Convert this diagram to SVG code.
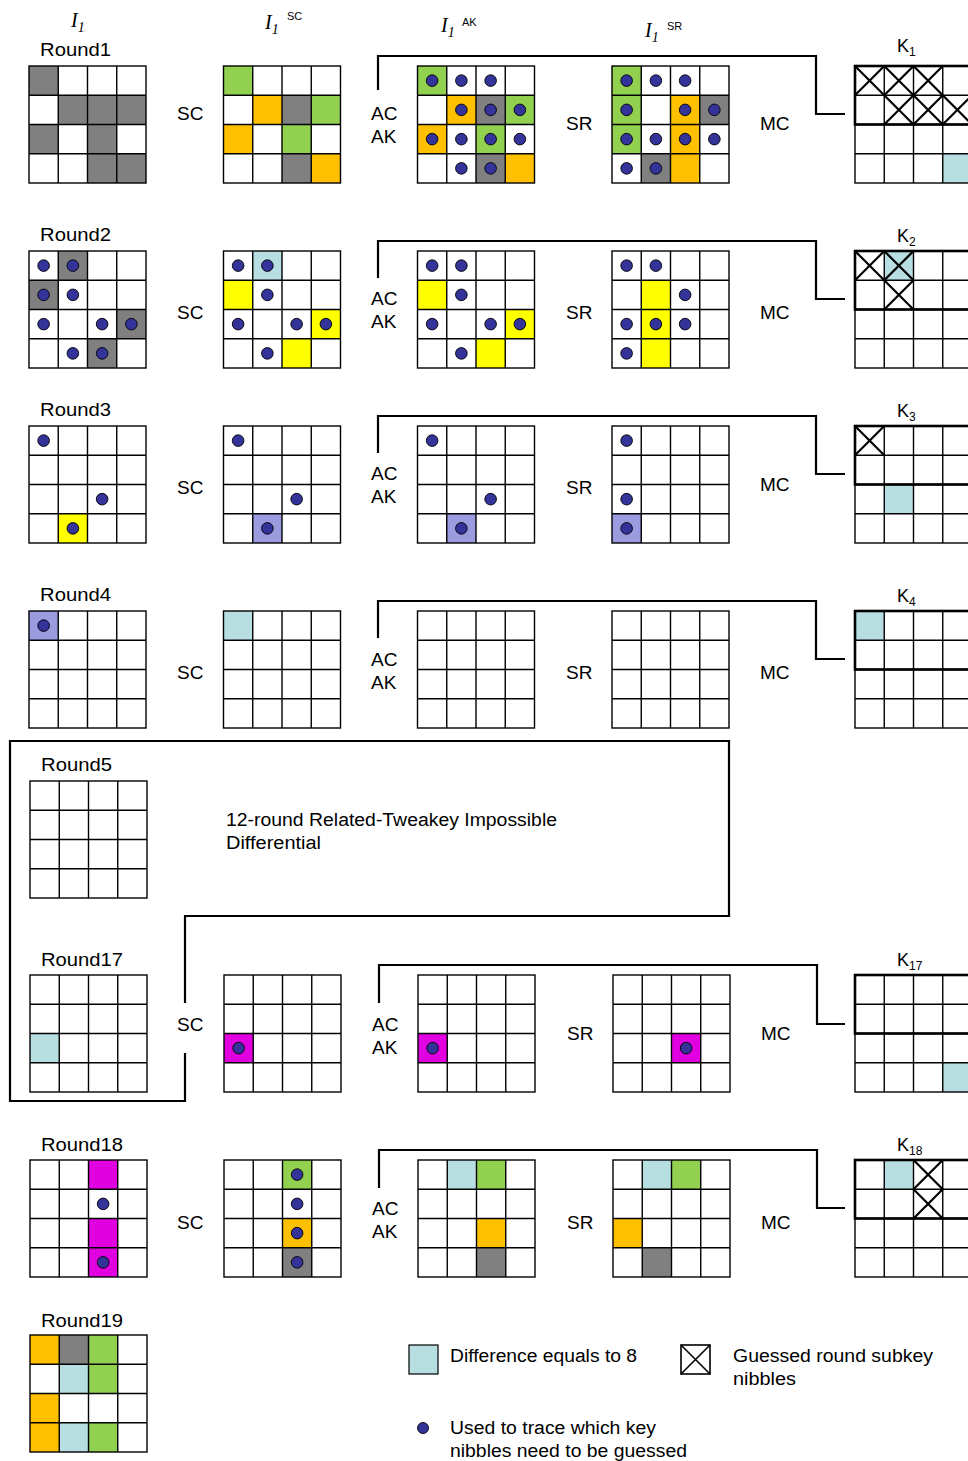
<svg xmlns="http://www.w3.org/2000/svg" xmlns:xlink="http://www.w3.org/1999/xlink" width="968" height="1461" viewBox="0 0 968 1461">
<style>
text{font-family:"Liberation Sans",Arial,sans-serif;fill:#000}
.lb{font-size:19px}
.rl{font-size:18px}
.it{font-family:"Liberation Serif","Times New Roman",serif;font-style:italic;font-size:20px}
.sup{font-size:11px}
.ks{font-size:18px}
.g{fill:#808080}.gr{fill:#92D050}.o{fill:#FFC000}.y{fill:#FFFF00}.b{fill:#B7DEE1}.p{fill:#9B9BE0}.m{fill:#E000E0}
.gl{fill:none;stroke:#000;stroke-width:1.4}
.conn{fill:none;stroke:#000;stroke-width:2.2}
.kb{fill:none;stroke:#000;stroke-width:2.6}
.xx{fill:none;stroke:#000;stroke-width:2.2}
</style>
<defs>
<rect id="c" width="29.25" height="29.25"/>
<circle id="d" cx="14.625" cy="14.625" r="5.8" fill="#333399" stroke="#000" stroke-width="0.9"/>
<path id="x" class="xx" d="M0,0L29.25,29.25M29.25,0L0,29.25"/>
<g id="grid" class="gl">
<rect width="117" height="117"/>
<path d="M29.25,0V117M58.5,0V117M87.75,0V117M0,29.25H117M0,58.5H117M0,87.75H117"/>
</g>
<g id="kgrid">
<use xlink:href="#grid"/>
<rect class="kb" width="120" height="58.5"/>
</g>
</defs>
<rect width="968" height="1461" fill="#fff"/>

<!-- headers -->
<g id="headers">
<text class="it" x="71" y="27">I<tspan font-size="14" dy="5">1</tspan></text>
<text class="it" x="265" y="29">I<tspan font-size="14" dy="5">1</tspan></text><text class="sup" x="287" y="20">SC</text>
<text class="it" x="441" y="32">I<tspan font-size="14" dy="5">1</tspan></text><text class="sup" x="462" y="26">AK</text>
<text class="it" x="645" y="37">I<tspan font-size="14" dy="5">1</tspan></text><text class="sup" x="667" y="30">SR</text>
</g>

<!-- connectors -->
<g id="connectors">
<path class="conn" d="M378,90V56H816V114H845"/>
<path class="conn" d="M378,278V241H816V299H845"/>
<path class="conn" d="M378,453V416H816V474H845"/>
<path class="conn" d="M378,638V601H816V659H845"/>
<path class="conn" d="M379,1003V965H817V1024H845"/>
<path class="conn" d="M379,1188V1150H817V1208H845"/>
<path class="conn" d="M185,1003V916H729V741H10V1101H185V1053"/>
</g>

<!-- ROW 1 -->
<g id="round1-label"><text class="rl" x="40" y="56" textLength="71" lengthAdjust="spacingAndGlyphs">Round1</text></g>
<g id="r1-in" transform="translate(29,66)">
<use xlink:href="#c" class="g" x="0" y="0"/><use xlink:href="#c" class="g" x="29.25" y="29.25"/><use xlink:href="#c" class="g" x="58.5" y="29.25"/><use xlink:href="#c" class="g" x="87.75" y="29.25"/><use xlink:href="#c" class="g" x="0" y="58.5"/><use xlink:href="#c" class="g" x="58.5" y="58.5"/><use xlink:href="#c" class="g" x="58.5" y="87.75"/><use xlink:href="#c" class="g" x="87.75" y="87.75"/>
<use xlink:href="#grid"/>
</g>
<g id="r1-sc-label"><text class="lb" x="177" y="120">SC</text></g>
<g id="r1-sc" transform="translate(223.5,66)">
<use xlink:href="#c" class="gr" x="0" y="0"/><use xlink:href="#c" class="o" x="29.25" y="29.25"/><use xlink:href="#c" class="g" x="58.5" y="29.25"/><use xlink:href="#c" class="gr" x="87.75" y="29.25"/><use xlink:href="#c" class="o" x="0" y="58.5"/><use xlink:href="#c" class="gr" x="58.5" y="58.5"/><use xlink:href="#c" class="g" x="58.5" y="87.75"/><use xlink:href="#c" class="o" x="87.75" y="87.75"/>
<use xlink:href="#grid"/>
</g>
<g id="r1-acak-label"><text class="lb" x="371" y="120">AC</text><text class="lb" x="371" y="143">AK</text></g>
<g id="r1-ak" transform="translate(417.5,66)">
<use xlink:href="#c" class="gr" x="0" y="0"/><use xlink:href="#c" class="o" x="29.25" y="29.25"/><use xlink:href="#c" class="g" x="58.5" y="29.25"/><use xlink:href="#c" class="gr" x="87.75" y="29.25"/><use xlink:href="#c" class="o" x="0" y="58.5"/><use xlink:href="#c" class="gr" x="58.5" y="58.5"/><use xlink:href="#c" class="g" x="58.5" y="87.75"/><use xlink:href="#c" class="o" x="87.75" y="87.75"/>
<use xlink:href="#grid"/>
<use xlink:href="#d" x="0" y="0"/><use xlink:href="#d" x="29.25" y="0"/><use xlink:href="#d" x="58.5" y="0"/>
<use xlink:href="#d" x="29.25" y="29.25"/><use xlink:href="#d" x="58.5" y="29.25"/><use xlink:href="#d" x="87.75" y="29.25"/>
<use xlink:href="#d" x="0" y="58.5"/><use xlink:href="#d" x="29.25" y="58.5"/><use xlink:href="#d" x="58.5" y="58.5"/><use xlink:href="#d" x="87.75" y="58.5"/>
<use xlink:href="#d" x="29.25" y="87.75"/><use xlink:href="#d" x="58.5" y="87.75"/>
</g>
<g id="r1-sr-label"><text class="lb" x="566" y="130">SR</text></g>
<g id="r1-sr" transform="translate(612,66)">
<use xlink:href="#c" class="gr" x="0" y="0"/><use xlink:href="#c" class="gr" x="0" y="29.25"/><use xlink:href="#c" class="gr" x="0" y="58.5"/><use xlink:href="#c" class="o" x="58.5" y="29.25"/><use xlink:href="#c" class="o" x="58.5" y="58.5"/><use xlink:href="#c" class="o" x="58.5" y="87.75"/><use xlink:href="#c" class="g" x="87.75" y="29.25"/><use xlink:href="#c" class="g" x="29.25" y="87.75"/>
<use xlink:href="#grid"/>
<use xlink:href="#d" x="0" y="0"/><use xlink:href="#d" x="29.25" y="0"/><use xlink:href="#d" x="58.5" y="0"/>
<use xlink:href="#d" x="0" y="29.25"/><use xlink:href="#d" x="58.5" y="29.25"/><use xlink:href="#d" x="87.75" y="29.25"/>
<use xlink:href="#d" x="0" y="58.5"/><use xlink:href="#d" x="29.25" y="58.5"/><use xlink:href="#d" x="58.5" y="58.5"/><use xlink:href="#d" x="87.75" y="58.5"/>
<use xlink:href="#d" x="0" y="87.75"/><use xlink:href="#d" x="29.25" y="87.75"/>
</g>
<g id="r1-mc-label"><text class="lb" x="760" y="130">MC</text></g>
<g id="k1" transform="translate(855,66)">
<use xlink:href="#c" class="b" x="87.75" y="87.75"/>
<use xlink:href="#kgrid"/>
<use xlink:href="#x" x="0" y="0"/><use xlink:href="#x" x="29.25" y="0"/><use xlink:href="#x" x="58.5" y="0"/>
<use xlink:href="#x" x="29.25" y="29.25"/><use xlink:href="#x" x="58.5" y="29.25"/><use xlink:href="#x" x="87.75" y="29.25"/>
</g>
<g id="k1-label"><text class="ks" x="897" y="52">K<tspan font-size="12" dy="4">1</tspan></text></g>

<!-- ROW 2 -->
<g id="round2-label"><text class="rl" x="40" y="241" textLength="71" lengthAdjust="spacingAndGlyphs">Round2</text></g>
<g id="r2-in" transform="translate(29,251)">
<use xlink:href="#c" class="g" x="29.25" y="0"/><use xlink:href="#c" class="g" x="0" y="29.25"/><use xlink:href="#c" class="g" x="87.75" y="58.5"/><use xlink:href="#c" class="g" x="58.5" y="87.75"/>
<use xlink:href="#grid"/>
<use xlink:href="#d" x="0" y="0"/><use xlink:href="#d" x="29.25" y="0"/>
<use xlink:href="#d" x="0" y="29.25"/><use xlink:href="#d" x="29.25" y="29.25"/>
<use xlink:href="#d" x="0" y="58.5"/><use xlink:href="#d" x="58.5" y="58.5"/><use xlink:href="#d" x="87.75" y="58.5"/>
<use xlink:href="#d" x="29.25" y="87.75"/><use xlink:href="#d" x="58.5" y="87.75"/>
</g>
<g id="r2-sc-label"><text class="lb" x="177" y="319">SC</text></g>
<g id="r2-sc" transform="translate(223.5,251)">
<use xlink:href="#c" class="b" x="29.25" y="0"/><use xlink:href="#c" class="y" x="0" y="29.25"/><use xlink:href="#c" class="y" x="87.75" y="58.5"/><use xlink:href="#c" class="y" x="58.5" y="87.75"/>
<use xlink:href="#grid"/>
<use xlink:href="#d" x="0" y="0"/><use xlink:href="#d" x="29.25" y="0"/>
<use xlink:href="#d" x="29.25" y="29.25"/>
<use xlink:href="#d" x="0" y="58.5"/><use xlink:href="#d" x="58.5" y="58.5"/><use xlink:href="#d" x="87.75" y="58.5"/>
<use xlink:href="#d" x="29.25" y="87.75"/>
</g>
<g id="r2-acak-label"><text class="lb" x="371" y="305">AC</text><text class="lb" x="371" y="328">AK</text></g>
<g id="r2-ak" transform="translate(417.5,251)">
<use xlink:href="#c" class="y" x="0" y="29.25"/><use xlink:href="#c" class="y" x="87.75" y="58.5"/><use xlink:href="#c" class="y" x="58.5" y="87.75"/>
<use xlink:href="#grid"/>
<use xlink:href="#d" x="0" y="0"/><use xlink:href="#d" x="29.25" y="0"/>
<use xlink:href="#d" x="29.25" y="29.25"/>
<use xlink:href="#d" x="0" y="58.5"/><use xlink:href="#d" x="58.5" y="58.5"/><use xlink:href="#d" x="87.75" y="58.5"/>
<use xlink:href="#d" x="29.25" y="87.75"/>
</g>
<g id="r2-sr-label"><text class="lb" x="566" y="319">SR</text></g>
<g id="r2-sr" transform="translate(612,251)">
<use xlink:href="#c" class="y" x="29.25" y="29.25"/><use xlink:href="#c" class="y" x="29.25" y="58.5"/><use xlink:href="#c" class="y" x="29.25" y="87.75"/>
<use xlink:href="#grid"/>
<use xlink:href="#d" x="0" y="0"/><use xlink:href="#d" x="29.25" y="0"/>
<use xlink:href="#d" x="58.5" y="29.25"/>
<use xlink:href="#d" x="0" y="58.5"/><use xlink:href="#d" x="29.25" y="58.5"/><use xlink:href="#d" x="58.5" y="58.5"/>
<use xlink:href="#d" x="0" y="87.75"/>
</g>
<g id="r2-mc-label"><text class="lb" x="760" y="319">MC</text></g>
<g id="k2" transform="translate(855,251)">
<use xlink:href="#c" class="b" x="29.25" y="0"/>
<use xlink:href="#kgrid"/>
<use xlink:href="#x" x="0" y="0"/><use xlink:href="#x" x="29.25" y="0"/><use xlink:href="#x" x="29.25" y="29.25"/>
</g>
<g id="k2-label"><text class="ks" x="897" y="242">K<tspan font-size="12" dy="4">2</tspan></text></g>

<!-- ROW 3 -->
<g id="round3-label"><text class="rl" x="40" y="416" textLength="71" lengthAdjust="spacingAndGlyphs">Round3</text></g>
<g id="r3-in" transform="translate(29,426)">
<use xlink:href="#c" class="y" x="29.25" y="87.75"/>
<use xlink:href="#grid"/>
<use xlink:href="#d" x="0" y="0"/><use xlink:href="#d" x="58.5" y="58.5"/><use xlink:href="#d" x="29.25" y="87.75"/>
</g>
<g id="r3-sc-label"><text class="lb" x="177" y="494">SC</text></g>
<g id="r3-sc" transform="translate(223.5,426)">
<use xlink:href="#c" class="p" x="29.25" y="87.75"/>
<use xlink:href="#grid"/>
<use xlink:href="#d" x="0" y="0"/><use xlink:href="#d" x="58.5" y="58.5"/><use xlink:href="#d" x="29.25" y="87.75"/>
</g>
<g id="r3-acak-label"><text class="lb" x="371" y="480">AC</text><text class="lb" x="371" y="503">AK</text></g>
<g id="r3-ak" transform="translate(417.5,426)">
<use xlink:href="#c" class="p" x="29.25" y="87.75"/>
<use xlink:href="#grid"/>
<use xlink:href="#d" x="0" y="0"/><use xlink:href="#d" x="58.5" y="58.5"/><use xlink:href="#d" x="29.25" y="87.75"/>
</g>
<g id="r3-sr-label"><text class="lb" x="566" y="494">SR</text></g>
<g id="r3-sr" transform="translate(612,426)">
<use xlink:href="#c" class="p" x="0" y="87.75"/>
<use xlink:href="#grid"/>
<use xlink:href="#d" x="0" y="0"/><use xlink:href="#d" x="0" y="58.5"/><use xlink:href="#d" x="0" y="87.75"/>
</g>
<g id="r3-mc-label"><text class="lb" x="760" y="491">MC</text></g>
<g id="k3" transform="translate(855,426)">
<use xlink:href="#c" class="b" x="29.25" y="58.5"/>
<use xlink:href="#kgrid"/>
<use xlink:href="#x" x="0" y="0"/>
</g>
<g id="k3-label"><text class="ks" x="897" y="417">K<tspan font-size="12" dy="4">3</tspan></text></g>

<!-- ROW 4 -->
<g id="round4-label"><text class="rl" x="40" y="601" textLength="71" lengthAdjust="spacingAndGlyphs">Round4</text></g>
<g id="r4-in" transform="translate(29,611)">
<use xlink:href="#c" class="p" x="0" y="0"/>
<use xlink:href="#grid"/>
<use xlink:href="#d" x="0" y="0"/>
</g>
<g id="r4-sc-label"><text class="lb" x="177" y="679">SC</text></g>
<g id="r4-sc" transform="translate(223.5,611)">
<use xlink:href="#c" class="b" x="0" y="0"/>
<use xlink:href="#grid"/>
</g>
<g id="r4-acak-label"><text class="lb" x="371" y="666">AC</text><text class="lb" x="371" y="689">AK</text></g>
<g id="r4-ak" transform="translate(417.5,611)"><use xlink:href="#grid"/></g>
<g id="r4-sr-label"><text class="lb" x="566" y="679">SR</text></g>
<g id="r4-sr" transform="translate(612,611)"><use xlink:href="#grid"/></g>
<g id="r4-mc-label"><text class="lb" x="760" y="679">MC</text></g>
<g id="k4" transform="translate(855,611)">
<use xlink:href="#c" class="b" x="0" y="0"/>
<use xlink:href="#kgrid"/>
</g>
<g id="k4-label"><text class="ks" x="897" y="602">K<tspan font-size="12" dy="4">4</tspan></text></g>

<!-- ROUND 5 -->
<g id="round5-label"><text class="rl" x="41" y="771" textLength="71" lengthAdjust="spacingAndGlyphs">Round5</text></g>
<g id="r5-in" transform="translate(30,781)"><use xlink:href="#grid"/></g>
<g id="rtid-label">
<text class="rl" x="226" y="826" textLength="331" lengthAdjust="spacingAndGlyphs">12-round Related-Tweakey Impossible</text>
<text class="rl" x="226" y="849" textLength="95" lengthAdjust="spacingAndGlyphs">Differential</text>
</g>

<!-- ROW 17 -->
<g id="round17-label"><text class="rl" x="41" y="966" textLength="82" lengthAdjust="spacingAndGlyphs">Round17</text></g>
<g id="r17-in" transform="translate(30,975)">
<use xlink:href="#c" class="b" x="0" y="58.5"/>
<use xlink:href="#grid"/>
</g>
<g id="r17-sc-label"><text class="lb" x="177" y="1031">SC</text></g>
<g id="r17-sc" transform="translate(224,975)">
<use xlink:href="#c" class="m" x="0" y="58.5"/>
<use xlink:href="#grid"/>
<use xlink:href="#d" x="0" y="58.5"/>
</g>
<g id="r17-acak-label"><text class="lb" x="372" y="1031">AC</text><text class="lb" x="372" y="1054">AK</text></g>
<g id="r17-ak" transform="translate(418,975)">
<use xlink:href="#c" class="m" x="0" y="58.5"/>
<use xlink:href="#grid"/>
<use xlink:href="#d" x="0" y="58.5"/>
</g>
<g id="r17-sr-label"><text class="lb" x="567" y="1040">SR</text></g>
<g id="r17-sr" transform="translate(613,975)">
<use xlink:href="#c" class="m" x="58.5" y="58.5"/>
<use xlink:href="#grid"/>
<use xlink:href="#d" x="58.5" y="58.5"/>
</g>
<g id="r17-mc-label"><text class="lb" x="761" y="1040">MC</text></g>
<g id="k17" transform="translate(855,975)">
<use xlink:href="#c" class="b" x="87.75" y="87.75"/>
<use xlink:href="#kgrid"/>
</g>
<g id="k17-label"><text class="ks" x="897" y="966">K<tspan font-size="12" dy="4">17</tspan></text></g>

<!-- ROW 18 -->
<g id="round18-label"><text class="rl" x="41" y="1151" textLength="82" lengthAdjust="spacingAndGlyphs">Round18</text></g>
<g id="r18-in" transform="translate(30,1160)">
<use xlink:href="#c" class="m" x="58.5" y="0"/><use xlink:href="#c" class="m" x="58.5" y="58.5"/><use xlink:href="#c" class="m" x="58.5" y="87.75"/>
<use xlink:href="#grid"/>
<use xlink:href="#d" x="58.5" y="29.25"/><use xlink:href="#d" x="58.5" y="87.75"/>
</g>
<g id="r18-sc-label"><text class="lb" x="177" y="1229">SC</text></g>
<g id="r18-sc" transform="translate(224,1160)">
<use xlink:href="#c" class="gr" x="58.5" y="0"/><use xlink:href="#c" class="o" x="58.5" y="58.5"/><use xlink:href="#c" class="g" x="58.5" y="87.75"/>
<use xlink:href="#grid"/>
<use xlink:href="#d" x="58.5" y="0"/><use xlink:href="#d" x="58.5" y="29.25"/><use xlink:href="#d" x="58.5" y="58.5"/><use xlink:href="#d" x="58.5" y="87.75"/>
</g>
<g id="r18-acak-label"><text class="lb" x="372" y="1215">AC</text><text class="lb" x="372" y="1238">AK</text></g>
<g id="r18-ak" transform="translate(418,1160)">
<use xlink:href="#c" class="b" x="29.25" y="0"/><use xlink:href="#c" class="gr" x="58.5" y="0"/><use xlink:href="#c" class="o" x="58.5" y="58.5"/><use xlink:href="#c" class="g" x="58.5" y="87.75"/>
<use xlink:href="#grid"/>
</g>
<g id="r18-sr-label"><text class="lb" x="567" y="1229">SR</text></g>
<g id="r18-sr" transform="translate(613,1160)">
<use xlink:href="#c" class="b" x="29.25" y="0"/><use xlink:href="#c" class="gr" x="58.5" y="0"/><use xlink:href="#c" class="o" x="0" y="58.5"/><use xlink:href="#c" class="g" x="29.25" y="87.75"/>
<use xlink:href="#grid"/>
</g>
<g id="r18-mc-label"><text class="lb" x="761" y="1229">MC</text></g>
<g id="k18" transform="translate(855,1160)">
<use xlink:href="#c" class="b" x="29.25" y="0"/>
<use xlink:href="#kgrid"/>
<use xlink:href="#x" x="58.5" y="0"/><use xlink:href="#x" x="58.5" y="29.25"/>
</g>
<g id="k18-label"><text class="ks" x="897" y="1151">K<tspan font-size="12" dy="4">18</tspan></text></g>

<!-- ROW 19 -->
<g id="round19-label"><text class="rl" x="41" y="1327" textLength="82" lengthAdjust="spacingAndGlyphs">Round19</text></g>
<g id="r19-in" transform="translate(30,1335)">
<use xlink:href="#c" class="o" x="0" y="0"/><use xlink:href="#c" class="o" x="0" y="58.5"/><use xlink:href="#c" class="o" x="0" y="87.75"/>
<use xlink:href="#c" class="g" x="29.25" y="0"/><use xlink:href="#c" class="b" x="29.25" y="29.25"/><use xlink:href="#c" class="b" x="29.25" y="87.75"/>
<use xlink:href="#c" class="gr" x="58.5" y="0"/><use xlink:href="#c" class="gr" x="58.5" y="29.25"/><use xlink:href="#c" class="gr" x="58.5" y="87.75"/>
<use xlink:href="#grid"/>
</g>

<!-- LEGEND -->
<g id="legend-diff">
<rect x="409" y="1345" width="29" height="29" fill="#B7DEE1" stroke="#000" stroke-width="1.2"/>
<text class="rl" x="450" y="1362" textLength="187" lengthAdjust="spacingAndGlyphs">Difference equals to 8</text>
</g>
<g id="legend-guess">
<rect x="681" y="1345" width="29" height="29" fill="#fff" stroke="#000" stroke-width="1.6"/>
<path d="M681,1345L710,1374M710,1345L681,1374" fill="none" stroke="#000" stroke-width="1.6"/>
<text class="rl" x="733" y="1362" textLength="200" lengthAdjust="spacingAndGlyphs">Guessed round subkey</text>
<text class="rl" x="733" y="1385" textLength="63" lengthAdjust="spacingAndGlyphs">nibbles</text>
</g>
<g id="legend-dot">
<circle cx="423" cy="1428" r="5.5" fill="#333399" stroke="#000" stroke-width="0.9"/>
<text class="rl" x="450" y="1434" textLength="206" lengthAdjust="spacingAndGlyphs">Used to trace which key</text>
<text class="rl" x="450" y="1457" textLength="237" lengthAdjust="spacingAndGlyphs">nibbles need to be guessed</text>
</g>
</svg>
